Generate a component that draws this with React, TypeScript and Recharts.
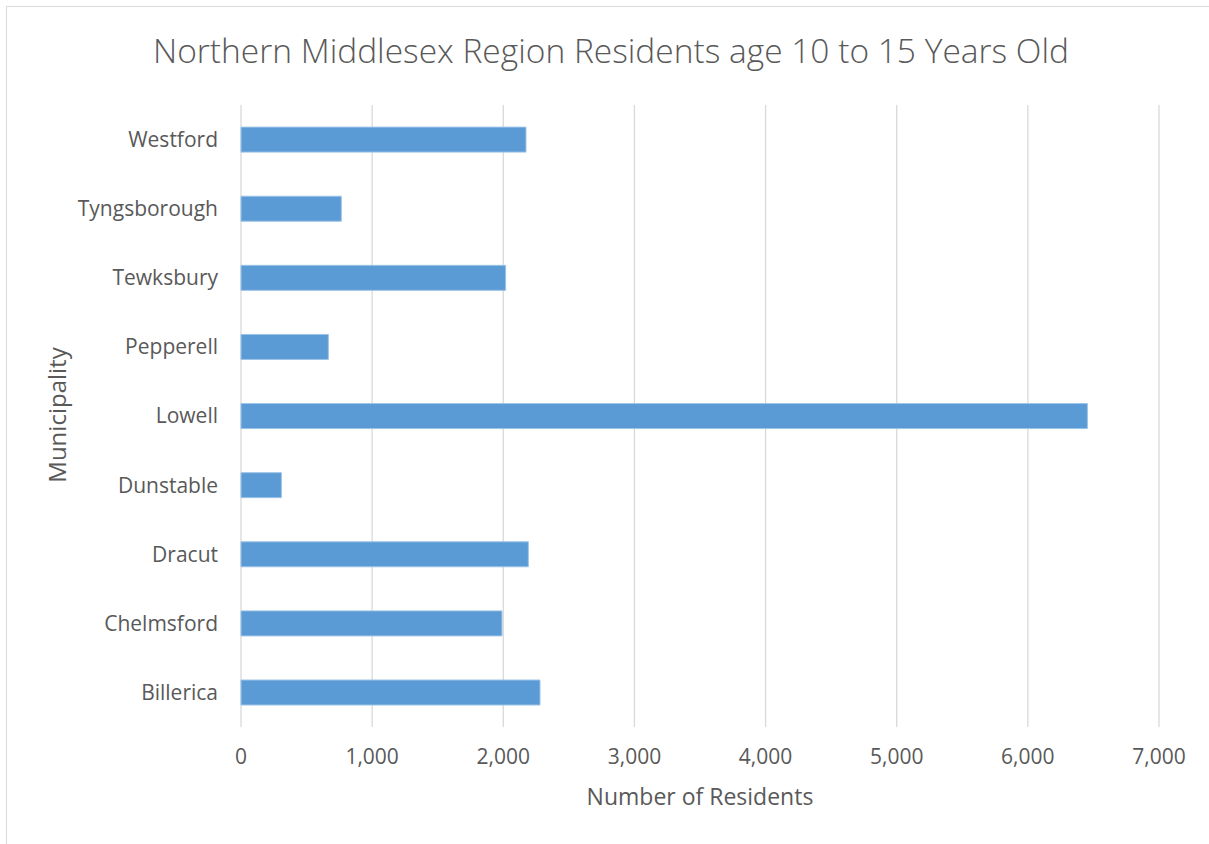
import { BarChart, Bar, XAxis, YAxis, CartesianGrid } from 'recharts';

const municipalities = ['Billerica', 'Chelmsford', 'Dracut', 'Dunstable', 'Lowell', 'Pepperell', 'Tewksbury', 'Tyngsborough', 'Westford'];
const residents = [2280, 1990, 2191, 308, 6454, 666, 2018, 765, 2173];
const xTicks = [0, 1000, 2000, 3000, 4000, 5000, 6000, 7000];

const data = municipalities.map((name, i) => ({ name, residents: residents[i] }));

const FONT = '"Open Sans", sans-serif';
const GRAY = '#595959';

export default function App() {
  return (
    <div style={{ position: 'absolute', left: 0, top: 0, width: 1209, height: 844, overflow: 'hidden', background: '#fff', fontFamily: FONT }}>
      <div style={{ position: 'absolute', left: 6, top: 6, width: 1300, height: 900, border: '1px solid #d9d9d9' }} />
      <div style={{ position: 'absolute', left: 0, top: 27, width: 1222, textAlign: 'center', fontSize: 33.5, fontWeight: 300, color: GRAY, whiteSpace: 'nowrap' }}>
        Northern Middlesex Region Residents age 10 to 15 Years Old
      </div>
      <div
        style={{
          position: 'absolute', left: -43, top: 400, width: 200, height: 30, lineHeight: '30px',
          textAlign: 'center', fontSize: 24, color: GRAY, transform: 'rotate(-90deg)',
        }}
      >
        Municipality
      </div>
      <div style={{ position: 'absolute', left: 0, top: 0 }}>
        <BarChart
          width={1209}
          height={844}
          data={data}
          layout="vertical"
          barCategoryGap="32%"
          margin={{ top: 105, right: 50, bottom: 87, left: 0 }}
        >
          <CartesianGrid horizontal={false} stroke="#d9d9d9" strokeWidth={1.3} />
          <XAxis
            type="number"
            domain={[0, 7000]}
            ticks={xTicks}
            height={30}
            tickFormatter={(v: number) => v.toLocaleString('en-US')}
            axisLine={false}
            tickLine={false}
            tickSize={0}
            tickMargin={22}
            tick={{ fill: GRAY, fontSize: 21, fontFamily: FONT }}
            label={{ value: 'Number of Residents', position: 'bottom', offset: 32, fill: GRAY, fontSize: 23, fontFamily: FONT }}
          />
          <YAxis
            type="category"
            dataKey="name"
            reversed
            width={241}
            axisLine={false}
            tickLine={false}
            tickSize={0}
            tickMargin={23}
            tick={{ fill: GRAY, fontSize: 21, fontFamily: FONT }}
          />
          <Bar dataKey="residents" fill="#5b9bd5" stroke="#9dc3e6" strokeWidth={1} isAnimationActive={false} />
        </BarChart>
      </div>
    </div>
  );
}
